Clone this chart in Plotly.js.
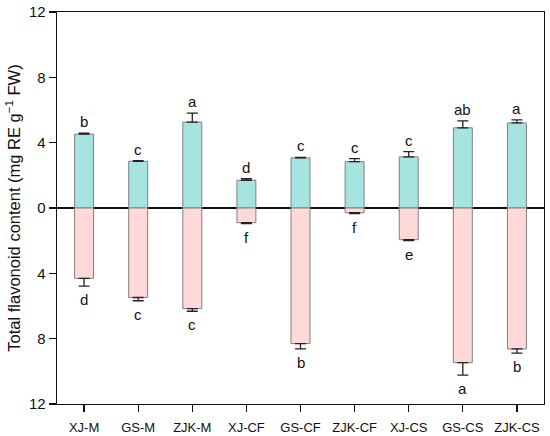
<!DOCTYPE html>
<html>
<head>
<meta charset="utf-8">
<script src="https://cdn.plot.ly/plotly-3.0.1.min.js"></script>
<style>html,body{margin:0;padding:0;background:#fff;}#chart{width:550px;height:436px;}</style>
</head>
<body>
<div id="chart"></div>
<script>
var categories = ["XJ-M","GS-M","ZJK-M","XJ-CF","GS-CF","ZJK-CF","XJ-CS","GS-CS","ZJK-CS"];
var upperValues = [4.52, 2.86, 5.26, 1.70, 3.07, 2.84, 3.13, 4.91, 5.21];
var upperErrors = [0.06, 0.04, 0.55, 0.10, 0.03, 0.18, 0.32, 0.43, 0.18];
var upperLetters = ["b","c","a","d","c","c","c","ab","a"];
var lowerValues = [4.31, 5.48, 6.16, 0.90, 8.30, 0.29, 1.94, 9.47, 8.63];
var lowerErrors = [0.47, 0.20, 0.16, 0.06, 0.33, 0.05, 0.06, 0.76, 0.25];
var lowerLetters = ["d","c","c","f","b","f","e","a","b"];
var yTickVals = [-12,-8,-4,0,4,8,12];
var yTickText = ["12","8","4","0","4","8","12"];

var font = "Arial, 'Liberation Sans', sans-serif";

var traces = [
  {
    type: "bar", x: categories, y: upperValues, width: 0.35,
    marker: {color: "#a6e4e1", line: {color: "#808080", width: 1}},
    error_y: {type: "data", symmetric: false, array: upperErrors,
      arrayminus: upperErrors.map(function(){return 0;}),
      color: "#222", thickness: 1.3, width: 5.5},
    hoverinfo: "skip"
  },
  {
    type: "bar", x: categories, y: lowerValues.map(function(v){return -v;}), width: 0.35,
    marker: {color: "#ffd8d8", line: {color: "#808080", width: 1}},
    error_y: {type: "data", symmetric: false,
      array: lowerErrors.map(function(){return 0;}), arrayminus: lowerErrors,
      color: "#222", thickness: 1.3, width: 5.5},
    hoverinfo: "skip"
  }
];

var annotations = [];
categories.forEach(function(c, i){
  annotations.push({x: c, y: upperValues[i] + upperErrors[i], text: upperLetters[i],
    showarrow: false, yanchor: "bottom", yshift: 1, font: {family: font, size: 15, color: "#111"}});
  annotations.push({x: c, y: -(lowerValues[i] + lowerErrors[i]), text: lowerLetters[i],
    showarrow: false, yanchor: "top", yshift: -3, font: {family: font, size: 15, color: "#111"}});
});

var layout = {
  width: 550, height: 436,
  margin: {l: 57, r: 6, t: 12, b: 32},
  paper_bgcolor: "#fff", plot_bgcolor: "#fff",
  showlegend: false,
  barmode: "overlay",
  font: {family: font, color: "#111"},
  xaxis: {
    type: "category", range: [-0.5, 8.5],
    showline: true, linecolor: "#111", linewidth: 1.3, mirror: true,
    ticks: "outside", ticklen: 7, tickcolor: "#111", tickwidth: 1.3,
    ticklabelstandoff: 4,
    tickfont: {size: 13, family: font, color: "#111"},
    showgrid: false, zeroline: false, fixedrange: true
  },
  yaxis: {
    range: [-12, 12], tickvals: yTickVals, ticktext: yTickText,
    showline: true, linecolor: "#111", linewidth: 1.3, mirror: true,
    ticks: "outside", ticklen: 7, tickcolor: "#111", tickwidth: 1.3,
    tickfont: {size: 15, family: font, color: "#111"},
    showgrid: false, zeroline: true, zerolinecolor: "#111", zerolinewidth: 1.3,
    title: {text: "Total flavonoid content (mg RE g<sup>\u22121</sup> FW)", font: {size: 16.5, family: font, color: "#111"}, standoff: 4},
    fixedrange: true
  },
  annotations: annotations
};

Plotly.newPlot("chart", traces, layout, {displayModeBar: false, staticPlot: true});
</script>
</body>
</html>
